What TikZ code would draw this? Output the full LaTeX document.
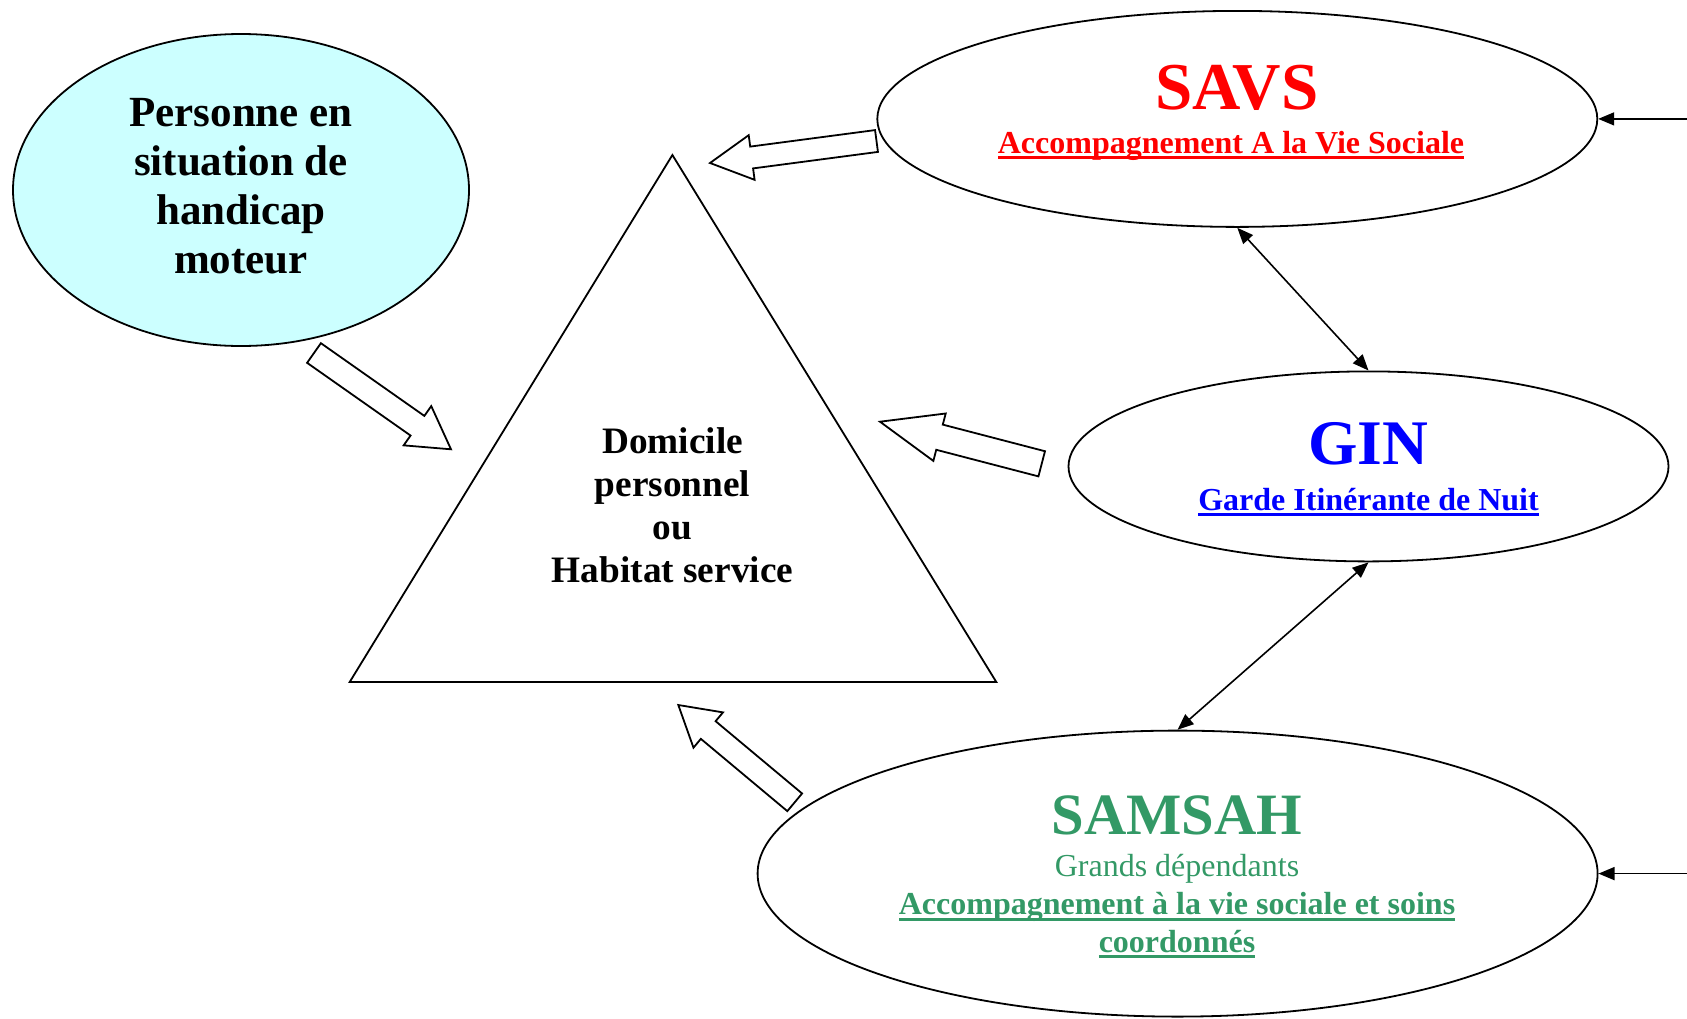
\documentclass[tikz,border=0pt]{standalone}
\usepackage{fontspec}
\setmainfont{Liberation Serif}
\usetikzlibrary{shapes.geometric,arrows.meta,calc}
\definecolor{savsred}{RGB}{255,0,0}
\definecolor{ginblue}{RGB}{0,0,255}
\definecolor{samgreen}{RGB}{51,153,102}
\definecolor{persfill}{RGB}{204,255,255}
\newcommand\fsz[2]{\fontsize{#1}{#2}\selectfont}
\newcommand\ulbox[1]{\setbox0=\hbox{#1}\rlap{\rule[-0.2em]{\wd0}{0.095em}}\box0}
\newcommand\blockarrow[5]{%
  \path let \p1=(#1), \p2=(#2),
    \n1={atan2(\y2-\y1,\x2-\x1)}, \n2={veclen(\x2-\x1,\y2-\y1)} in
    \pgfextra{\pgfmathparse{\n1}\xdef\baang{\pgfmathresult}%
      \pgfmathparse{\n2}\xdef\balen{\pgfmathresult}%
      \xdef\bax{\x1}\xdef\bay{\y1}};
  \draw[blockarr, shift={(\bax,\bay)}, rotate=\baang]
    (0pt,#3pt) -- ({(\balen-#5)*1pt},#3pt) -- ({(\balen-#5)*1pt},#4pt)
    -- ({\balen*1pt},0pt) -- ({(\balen-#5)*1pt},-#4pt)
    -- ({(\balen-#5)*1pt},-#3pt) -- (0pt,-#3pt) -- cycle;
}
\begin{document}
\begin{tikzpicture}[x=1pt,y=-1pt,
  ell/.style={ellipse, draw, line width=1.8pt, inner sep=0pt},
  blockarr/.style={draw, line width=1.8pt, fill=white, line join=miter},
  conn/.style={line width=1.6pt, -{Triangle[length=16pt,width=13pt]}},
  biconn/.style={line width=1.6pt, {Triangle[length=16pt,width=13pt]}-{Triangle[length=16pt,width=13pt]}},
  tri/.style={draw, line width=1.8pt, line join=miter},
]
\useasboundingbox (0,0) rectangle (1687,1018);

% ellipses
\node[ell, fill=persfill, minimum width=456pt, minimum height=312pt] (pers) at (241,190) {};
\node[ell, minimum width=720pt, minimum height=216pt] (savs) at (1237.3,118.9) {};
\node[ell, minimum width=600pt, minimum height=190pt] (gin) at (1368.5,466.4) {};
\node[ell, minimum width=840pt, minimum height=286pt] (samsah) at (1177.6,873.6) {};

% triangle
\coordinate (tA) at (672.4,155);
\coordinate (tL) at (349.7,682);
\coordinate (tR) at (996.3,682);
\draw[tri] (tA) -- (tR) -- (tL) -- cycle;

% texts
\node[font=\bfseries\fsz{43}{49}, align=center, inner sep=0pt] (perstxt) at (241,186.5) {Personne en\\situation de\\handicap\\moteur};
\node[font=\bfseries\fsz{37.3}{43}, align=center, inner sep=0pt] (domtxt) at (672.5,505.5) {Domicile\\personnel\\ou\\Habitat service};

\node[anchor=base, text=savsred, font=\bfseries\fsz{67}{75}] (savst) at (1237,109) {SAVS};
\node[anchor=base, text=savsred, font=\bfseries\fsz{32}{37}] (savss) at (1231,153) {\ulbox{Accompagnement A la Vie Sociale}};

\node[anchor=base, text=ginblue, font=\bfseries\fsz{63.5}{70}] (gint) at (1368.5,464) {GIN};
\node[anchor=base, text=ginblue, font=\bfseries\fsz{32}{37}] (gins) at (1368.5,510) {\ulbox{Garde Itinérante de Nuit}};

\node[anchor=base, text=samgreen, font=\bfseries\fsz{58.6}{66}] (samt) at (1177,834) {SAMSAH};
\node[anchor=base, text=samgreen, font=\fsz{32}{37}] (samg) at (1177,876.5) {Grands dépendants};
\node[anchor=base, text=samgreen, font=\bfseries\fsz{32}{37}] (sams1) at (1177,914.5) {\ulbox{Accompagnement à la vie sociale et soins}};
\node[anchor=base, text=samgreen, font=\bfseries\fsz{32}{37}] (sams2) at (1177,952) {\ulbox{coordonnés}};

% connectors
\coordinate (rin1) at (1687,118.9);
\coordinate (rin2) at (1687,873.6);
\draw[conn] (rin1) -- (savs.east);
\draw[conn] (rin2) -- (samsah.east);
\draw[biconn] (savs.south) -- (gin.north);
\draw[biconn] (gin.south) -- (samsah.north);

% block arrows
\coordinate (b1s) at (876.5,141); \coordinate (b1e) at (710,163);
\blockarrow{b1s}{b1e}{11}{22.5}{42}
\coordinate (b2s) at (314,353); \coordinate (b2e) at (451,449.3);
\blockarrow{b2s}{b2e}{12}{24}{41}
\coordinate (b3s) at (1041.7,463.8); \coordinate (b3e) at (880,421.7);
\blockarrow{b3s}{b3e}{13}{24.5}{61.5}
\coordinate (b4s) at (794.7,802.3); \coordinate (b4e) at (678.3,705);
\blockarrow{b4s}{b4e}{11.5}{23}{39}
\end{tikzpicture}
\end{document}
